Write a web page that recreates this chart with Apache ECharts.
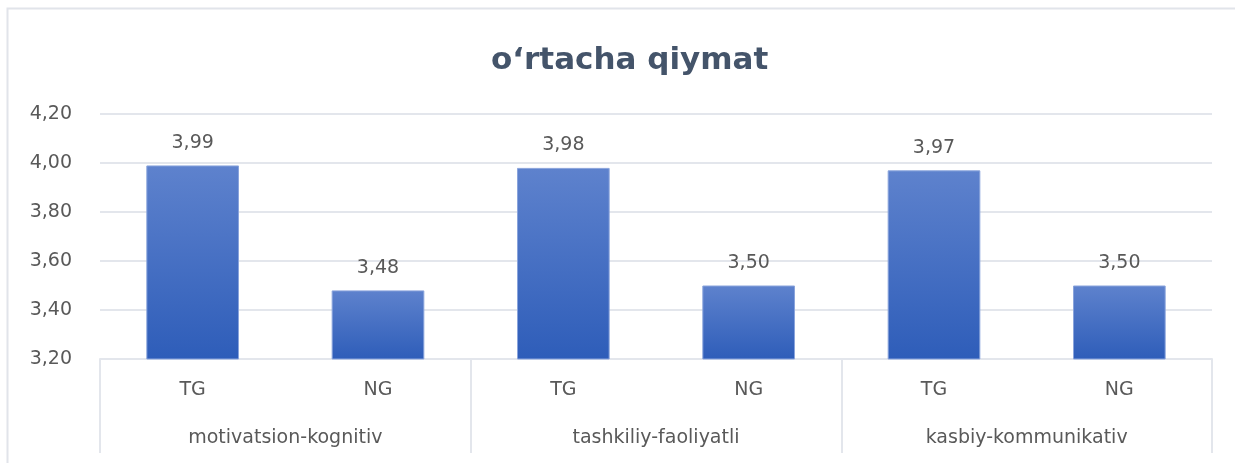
<!DOCTYPE html>
<html>
  <head>
    <title></title>
    <meta charset="UTF-8" />
    <script src="https://cdn.jsdelivr.net/npm/echarts@6/dist/echarts.min.js"></script>
    <style>
      html, body { margin: 0; padding: 0; background: #fff; }
    </style>
  </head>
  <body>
    <div id="main"></div>
    <script>
      const width = 1235;
      const height = 463;
      const main = document.getElementById('main');
      main.style.width = `${width}px`;
      main.style.height = `${height}px`;

      const groups = ['motivatsion-kognitiv', 'tashkiliy-faoliyatli', 'kasbiy-kommunikativ'];
      const subLabels = ['TG', 'NG', 'TG', 'NG', 'TG', 'NG'];
      const values = [3.99, 3.48, 3.98, 3.50, 3.97, 3.50];

      const textColor = '#595959';
      const lineColor = '#e3e6ec';
      const font = 'DejaVu Sans';
      const fmt = v => v.toFixed(2).replace('.', ',');

      const myChart = echarts.init(main);
      const option = {
        animation: false,
        textStyle: { fontFamily: font },
        title: {
          text: 'o‘rtacha qiymat',
          left: 486,
          top: 40,
          textStyle: {
            color: '#44546A',
            fontSize: 31,
            fontWeight: 'bold',
            fontFamily: font
          }
        },
        graphic: [{
          type: 'rect',
          shape: { x: 7.5, y: 8.5, width: 1260, height: 470 },
          style: { fill: 'none', stroke: '#e1e4ea', lineWidth: 2 },
          silent: true
        }],
        grid: { left: 100, right: 23, top: 114, bottom: 104 },
        xAxis: [
          {
            type: 'category',
            data: subLabels,
            axisLine: { lineStyle: { color: lineColor, width: 2 } },
            axisTick: { show: false },
            axisLabel: { color: textColor, fontSize: 19, fontFamily: font, margin: 22 }
          },
          {
            type: 'category',
            data: groups,
            position: 'bottom',
            axisLine: { show: false },
            axisTick: { show: true, length: 94, lineStyle: { color: lineColor, width: 2 } },
            axisLabel: { color: textColor, fontSize: 19, fontFamily: font, margin: 70 }
          }
        ],
        yAxis: {
          type: 'value',
          min: 3.2,
          max: 4.2,
          interval: 0.2,
          axisLine: { show: false },
          axisTick: { show: false },
          splitLine: { lineStyle: { color: lineColor, width: 2 } },
          axisLabel: { color: textColor, fontSize: 19, fontFamily: font, margin: 28, formatter: v => fmt(v) }
        },
        series: [{
          type: 'bar',
          xAxisIndex: 0,
          data: values,
          barWidth: '50%',
          itemStyle: {
            color: new echarts.graphic.LinearGradient(0, 0, 0, 1, [
              { offset: 0, color: '#5e82cd' },
              { offset: 1, color: '#2e5db9' }
            ]),
            borderColor: '#8aa4dc',
            borderWidth: 1
          },
          label: {
            show: true,
            position: 'top',
            distance: 13,
            color: textColor,
            fontSize: 19,
            fontFamily: font,
            formatter: p => fmt(p.value)
          }
        }]
      };
      myChart.setOption(option);
    </script>
  </body>
</html>
